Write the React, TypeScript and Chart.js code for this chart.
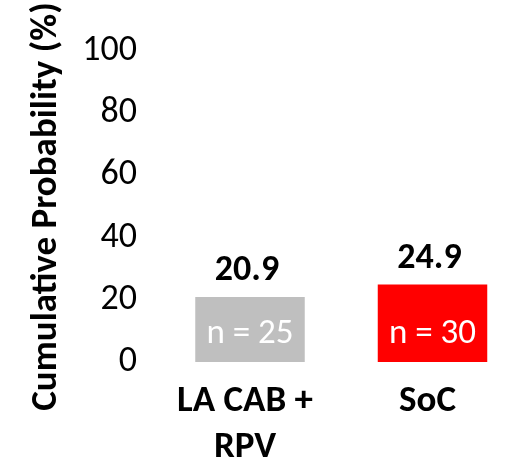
import React, { useEffect, useRef } from "react";
import { Chart, registerables } from "chart.js";

Chart.register(...registerables);

const categories: string[][] = [["LA CAB +", "RPV"], ["SoC"]];
const probabilities = [20.9, 24.9];
const sampleSizes = [25, 30];
const barColors = ["#BFBFBF", "#FF0000"];
const yTicks = [0, 20, 40, 60, 80, 100];
const yTitle = "Cumulative Probability (%)";

const FONT = "Carlito, Lato, sans-serif";

const labelPlugin = {
  id: "barLabels",
  afterDatasetsDraw(chart: any) {
    const { ctx } = chart;
    const meta = chart.getDatasetMeta(0);
    const yScale = chart.scales.y;
    const base = yScale.getPixelForValue(0);
    ctx.save();
    ctx.textAlign = "center";
    ctx.textBaseline = "alphabetic";
    meta.data.forEach((bar: any, i: number) => {
      ctx.fillStyle = "#000000";
      ctx.font = `bold 36px ${FONT}`;
      ctx.fillText(probabilities[i].toFixed(1), bar.x - 3, bar.y - 17);
      ctx.fillStyle = "#FFFFFF";
      ctx.font = `35px ${FONT}`;
      ctx.fillText(`n = ${sampleSizes[i]}`, bar.x, base - 19);
    });
    ctx.restore();
  },
};

export default function App() {
  const ref = useRef<HTMLCanvasElement>(null);
  useEffect(() => {
    if (!ref.current) return;
    const chart = new Chart(ref.current, {
      type: "bar",
      data: {
        labels: categories,
        datasets: [
          {
            data: probabilities,
            backgroundColor: barColors,
            borderWidth: 0,
            barPercentage: 1,
            categoryPercentage: 0.6,
            clip: false,
          },
        ],
      },
      plugins: [labelPlugin],
      options: {
        animation: false,
        responsive: false,
        maintainAspectRatio: false,
        layout: { padding: { top: 51, right: 78.5, bottom: 0, left: 0 } },
        plugins: { legend: { display: false }, tooltip: { enabled: false } },
        scales: {
          x: {
            type: "category",
            offset: false,
            grid: { display: false, drawTicks: false, offset: false },
            border: { display: false },
            afterFit: (scale: any) => {
              scale.height = 98;
            },
            ticks: {
              autoSkip: false,
              maxRotation: 0,
              padding: 16,
              labelOffset: -5,
              color: "#000000",
              font: { family: FONT, size: 37, weight: "bold", lineHeight: 1.26 },
            },
          },
          y: {
            min: 0,
            max: 100,
            weight: 1,
            grid: { display: false, drawTicks: false },
            border: { display: false },
            afterBuildTicks: (scale: any) => {
              scale.ticks = yTicks.map((v) => ({ value: v }));
            },
            afterFit: (scale: any) => {
              scale.width = 145;
            },
            ticks: {
              padding: 8,
              color: "#000000",
              font: { family: FONT, size: 36 },
            },
            title: {
              display: true,
              text: yTitle,
              color: "#000000",
              font: { family: FONT, size: 37, weight: "bold", lineHeight: 1.2 },
              padding: { top: 25, bottom: 0 },
            },
          },
          gap: {
            type: "linear",
            position: "left",
            weight: 0,
            display: true,
            grid: { display: false, drawTicks: false },
            border: { display: false },
            ticks: { display: false },
            afterFit: (scale: any) => {
              scale.width = 105;
            },
          },
        },
      },
    });
    return () => chart.destroy();
  }, []);
  return (
    <div style={{ position: "fixed", left: 0, top: 0, width: 511, height: 460, background: "#fff" }}>
      <canvas ref={ref} width={511} height={460} style={{ display: "block" }} />
    </div>
  );
}
